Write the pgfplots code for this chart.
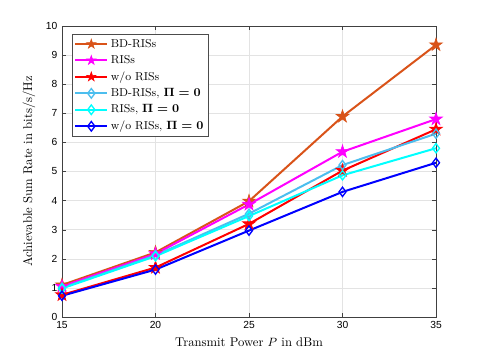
\documentclass[border=0pt]{standalone}
\usepackage{amsmath}
\usepackage{fontspec}
\usepackage{pgfplots}
\pgfplotsset{compat=1.18}
\newfontfamily\ticksans{Liberation Sans}

\definecolor{mOrange}{rgb}{0.85,0.325,0.098}
\definecolor{mLight}{rgb}{0.30,0.745,0.933}
\definecolor{mMag}{rgb}{1,0,1}
\definecolor{mCyan}{rgb}{0,1,1}
\definecolor{mRed}{rgb}{1,0,0}
\definecolor{mBlue}{rgb}{0,0,1}

% filled five-pointed star, like MATLAB's pentagram
\pgfdeclareplotmark{pstar}{%
  \pgfpathmoveto{\pgfpointpolar{90}{\pgfplotmarksize}}%
  \pgfpathlineto{\pgfpointpolar{126}{0.382\pgfplotmarksize}}%
  \pgfpathlineto{\pgfpointpolar{162}{\pgfplotmarksize}}%
  \pgfpathlineto{\pgfpointpolar{198}{0.382\pgfplotmarksize}}%
  \pgfpathlineto{\pgfpointpolar{234}{\pgfplotmarksize}}%
  \pgfpathlineto{\pgfpointpolar{270}{0.382\pgfplotmarksize}}%
  \pgfpathlineto{\pgfpointpolar{306}{\pgfplotmarksize}}%
  \pgfpathlineto{\pgfpointpolar{342}{0.382\pgfplotmarksize}}%
  \pgfpathlineto{\pgfpointpolar{18}{\pgfplotmarksize}}%
  \pgfpathlineto{\pgfpointpolar{54}{0.382\pgfplotmarksize}}%
  \pgfpathclose
  \pgfusepathqfillstroke}

\begin{document}
\begin{tikzpicture}
\path[use as bounding box] (-46.5pt,-30.75pt) rectangle (312pt,237.75pt);
\begin{axis}[
  at={(0pt,0pt)}, anchor=south west,
  scale only axis,
  width=280.5pt, height=218.25pt,
  xmin=15, xmax=35, ymin=0, ymax=10,
  xtick={15,20,25,30,35},
  ytick={0,1,...,10},
  tick align=inside,
  major tick length=3pt,
  grid=major,
  grid style={gray!22, line width=0.4pt},
  axis line style={black!75, line width=0.5pt},
  tick style={black!75},
  ticklabel style={font=\ticksans\fontsize{7.7}{9}\selectfont},
  /pgf/number format/assume math mode=true,
  xlabel={Transmit Power $P$ in dBm},
  ylabel={Achievable Sum Rate in bits/s/Hz},
  label style={font=\fontsize{9.5}{11}\selectfont},
  xlabel style={yshift=0pt},
  ylabel style={yshift=1pt},
  legend style={at={(0.027,0.972)}, anchor=north west, draw=black!70,
    font=\fontsize{8.6}{10}\selectfont, row sep=0.6pt,
    inner sep=1.5pt, legend cell align=left},
  legend image code/.code={%
    \draw[mark repeat=2, mark phase=2, #1, mark size=3.6pt]
      plot coordinates {(0cm,0cm) (0.42cm,0cm) (0.84cm,0cm)};},
  every axis plot/.append style={line width=1.5pt},
]
\addplot[mOrange, mark=pstar, mark size=5pt, mark options={solid, line width=0.5pt}]
  coordinates {(15,1.10) (20,2.22) (25,3.98) (30,6.89) (35,9.35)};
\addplot[mMag, mark=pstar, mark size=5pt, mark options={solid, line width=0.5pt}]
  coordinates {(15,1.05) (20,2.17) (25,3.87) (30,5.68) (35,6.80)};
\addplot[mRed, mark=pstar, mark size=5pt, mark options={solid, line width=0.5pt}]
  coordinates {(15,0.76) (20,1.70) (25,3.20) (30,5.03) (35,6.45)};
\addplot[mLight, mark=diamond, mark size=3.5pt, mark options={solid, line width=1pt}]
  coordinates {(15,1.00) (20,2.12) (25,3.55) (30,5.22) (35,6.30)};
\addplot[mCyan, mark=diamond, mark size=3.5pt, mark options={solid, line width=1pt}]
  coordinates {(15,0.98) (20,2.09) (25,3.47) (30,4.87) (35,5.80)};
\addplot[mBlue, mark=diamond, mark size=3.5pt, mark options={solid, line width=1pt}]
  coordinates {(15,0.73) (20,1.63) (25,2.97) (30,4.30) (35,5.30)};
\legend{BD-RISs, RISs, w/o RISs,
  {BD-RISs, $\boldsymbol{\Pi=0}$},
  {RISs, $\boldsymbol{\Pi=0}$},
  {w/o RISs, $\boldsymbol{\Pi=0}$}}
\end{axis}
\end{tikzpicture}
\end{document}
